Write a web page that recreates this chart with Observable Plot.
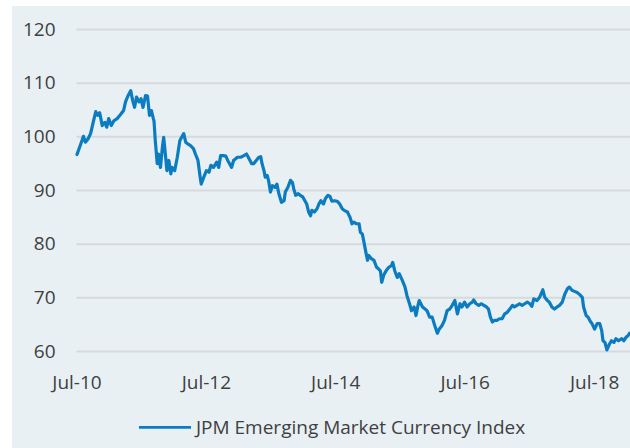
<!DOCTYPE html>
<html><head><meta charset="utf-8">
<script src="https://cdn.jsdelivr.net/npm/d3@7"></script>
<script src="https://cdn.jsdelivr.net/npm/@observablehq/plot@0.6"></script>
<style>
html,body{margin:0;padding:0;background:#ffffff;}
#panel{position:absolute;left:12px;top:6px;width:618px;height:442px;background:#E8F0F4;font-family:"Open Sans",sans-serif;overflow:hidden;}
#chart{position:absolute;left:0;top:0;}
#legend{position:absolute;left:0;top:0;}
</style></head><body><div id="panel"><div id="chart"></div><svg id="legend" width="618" height="442"></svg></div>
<script>
// time in decimal years
const years = [
2010.50,2010.55,2010.60,2010.63,2010.67,2010.71,2010.75,2010.79,2010.82,2010.85,2010.89,2010.93,2010.96,2010.99,
2011.03,2011.07,2011.12,2011.17,2011.22,2011.25,2011.29,2011.33,2011.36,2011.39,2011.42,2011.46,2011.49,2011.52,
2011.56,2011.59,2011.62,2011.65,2011.68,2011.69,2011.71,2011.74,2011.76,2011.79,2011.82,2011.84,2011.87,2011.89,
2011.92,2011.95,2011.97,2012.01,2012.05,2012.09,2012.13,2012.15,2012.18,2012.21,2012.25,2012.30,2012.33,2012.37,
2012.40,2012.42,2012.46,2012.50,2012.54,2012.57,2012.61,2012.66,2012.69,2012.72,2012.76,2012.80,2012.83,2012.89,
2012.92,2012.98,2013.03,2013.08,2013.12,2013.16,2013.20,2013.23,2013.27,2013.31,2013.34,2013.36,2013.39,2013.41,
2013.44,2013.46,2013.49,2013.52,2013.56,2013.59,2013.62,2013.66,2013.70,2013.72,2013.76,2013.80,2013.83,2013.85,
2013.88,2013.92,2013.95,2013.99,2014.05,2014.08,2014.11,2014.13,2014.17,2014.21,2014.24,2014.27,2014.31,2014.34,
2014.38,2014.41,2014.44,2014.48,2014.52,2014.56,2014.60,2014.63,2014.68,2014.72,2014.75,2014.78,2014.82,2014.86,
2014.88,2014.91,2014.93,2014.96,2014.99,2015.01,2015.05,2015.09,2015.13,2015.16,2015.19,2015.21,2015.24,2015.28,
2015.32,2015.36,2015.38,2015.41,2015.45,2015.48,2015.53,2015.57,2015.60,2015.64,2015.67,2015.71,2015.74,2015.77,
2015.79,2015.84,2015.88,2015.91,2015.95,2015.99,2016.03,2016.07,2016.10,2016.14,2016.18,2016.22,2016.26,2016.30,
2016.34,2016.38,2016.42,2016.45,2016.49,2016.53,2016.57,2016.61,2016.63,2016.67,2016.71,2016.75,2016.79,2016.83,
2016.86,2016.89,2016.92,2016.95,2016.99,2017.03,2017.07,2017.11,2017.15,2017.19,2017.23,2017.26,2017.30,2017.34,
2017.38,2017.42,2017.46,2017.50,2017.53,2017.56,2017.61,2017.65,2017.70,2017.73,2017.77,2017.80,2017.84,2017.88,
2017.92,2017.96,2018.00,2018.04,2018.08,2018.11,2018.15,2018.19,2018.23,2018.27,2018.31,2018.33,2018.37,2018.40,
2018.44,2018.46,2018.50,2018.54,2018.58,2018.61,2018.63,2018.66,2018.69,2018.73,2018.76,2018.80,2018.83,2018.87,
2018.92,2018.95,2018.99,2019.02,2019.04
];
// JPM Emerging Market Currency Index values
const indexValues = [
96.7,98.4,100.1,99.0,99.6,100.6,102.7,104.7,104.0,104.5,102.1,102.7,101.8,103.4,
102.1,103.0,103.4,104.1,104.9,106.5,107.7,108.6,106.8,105.5,107.4,106.5,107.1,105.5,
107.7,107.6,104.0,104.9,103.4,103.0,99.3,95.0,96.8,94.3,98.1,99.9,96.2,93.7,
95.6,93.1,94.3,93.7,96.2,99.3,100.2,100.6,99.0,98.7,98.4,97.8,96.8,95.6,
92.8,91.2,92.5,93.7,93.4,94.7,94.3,95.3,94.3,96.5,96.5,96.4,95.6,94.3,
95.6,96.2,96.2,96.5,96.8,95.9,95.0,95.0,95.6,96.2,96.3,95.0,93.7,92.5,
92.8,91.9,89.7,90.9,90.6,91.2,89.4,87.8,88.1,89.7,90.6,91.9,91.5,90.3,
89.1,89.4,89.1,88.8,87.5,86.0,85.3,86.3,86.0,86.6,87.5,88.1,87.5,88.5,
89.1,88.9,88.0,88.1,88.0,87.5,86.6,86.3,86.0,85.0,83.8,84.1,83.8,83.8,
82.2,81.9,80.7,78.8,77.0,77.9,77.3,77.0,75.7,75.4,75.0,72.9,74.2,75.1,
75.7,76.0,76.6,75.1,73.8,74.5,73.2,72.0,70.4,68.9,67.6,68.3,66.7,68.6,
69.5,68.3,67.9,67.6,66.4,66.4,64.8,63.4,64.2,64.8,65.8,67.6,67.9,68.6,
69.5,67.0,68.9,68.3,69.2,68.3,68.9,69.2,69.6,68.9,68.6,68.9,68.6,68.3,
67.9,66.4,65.5,65.8,65.8,66.1,66.1,67.0,67.3,67.9,68.6,68.3,68.6,68.9,
68.6,68.9,69.2,68.9,68.4,69.8,69.5,70.1,71.5,70.1,69.5,69.2,68.3,67.9,
68.3,68.6,69.2,70.7,71.7,72.0,71.4,71.2,71.0,70.6,70.1,68.3,66.7,66.4,
65.5,65.2,64.2,65.2,65.2,63.9,62.0,61.7,60.3,61.4,62.0,61.7,62.4,62.0,
62.4,62.0,62.7,63.0,63.4
];
const yTicks = [60,70,80,90,100,110,120];
const xTickYears = [2010.5,2012.5,2014.5,2016.5,2018.5];
const xTickLabels = ["Jul-10","Jul-12","Jul-14","Jul-16","Jul-18"];
const seriesName = "JPM Emerging Market Currency Index";

const data = years.map((t,i)=>({t, v: indexValues[i]}));
const lineColor = "#0C7CC0";

const chart = Plot.plot({
  width: 618, height: 395,
  marginLeft: 64.5, marginRight: 0, marginTop: 23, marginBottom: 50,
  style: {background: "transparent", fontFamily: "'Open Sans', sans-serif", fontSize: "19px", color: "#404040", overflow: "visible"},
  x: {type: "linear", domain: [2010.5, 2019.055], ticks: xTickYears, tickSize: 0, tickPadding: 24,
      tickFormat: d => xTickLabels[xTickYears.indexOf(d)], label: null},
  y: {domain: [60, 120], ticks: yTicks, tickSize: 0, tickPadding: 21.5, label: null},
  marks: [
    Plot.ruleY(yTicks, {stroke: "#D6DADC", strokeWidth: 2}),
    Plot.line(data, {x: "t", y: "v", stroke: lineColor, strokeWidth: 3.2, strokeLinejoin: "round"})
  ]
});
document.getElementById("chart").appendChild(chart);

const lg = d3.select("#legend");
lg.append("line").attr("x1",127).attr("x2",179).attr("y1",421.3).attr("y2",421.3)
  .attr("stroke",lineColor).attr("stroke-width",2.8);
lg.append("text").attr("x",184).attr("y",428).text(seriesName)
  .attr("fill","#404040").style("font-family","'Open Sans', sans-serif").style("font-size","19px");
</script>
</body></html>
